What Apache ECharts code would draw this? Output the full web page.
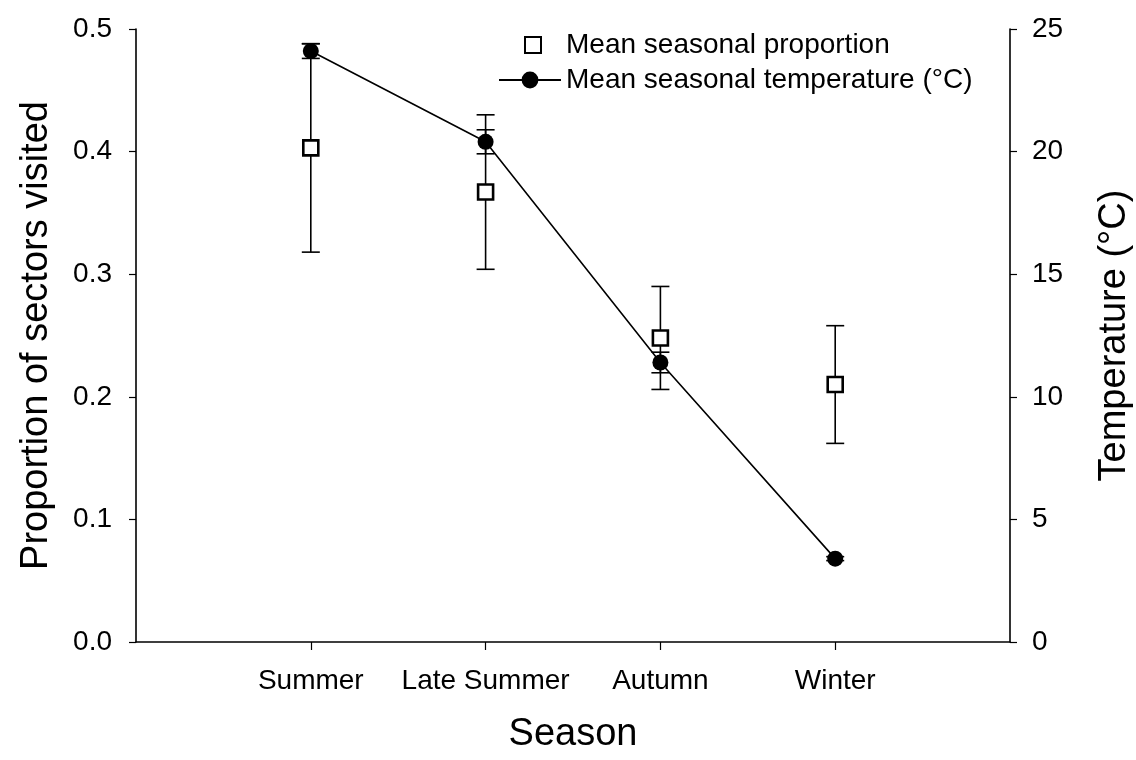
<!DOCTYPE html>
<html>
<head>
<meta charset="utf-8">
<script src="https://cdn.jsdelivr.net/npm/echarts@6/dist/echarts.min.js"></script>
<style>
html,body{margin:0;padding:0;background:#fff;}
#chart{width:1136px;height:760px;}
</style>
</head>
<body>
<div id="chart"></div>
<script>
// ---- data ----
var categories = ['Summer', 'Late Summer', 'Autumn', 'Winter'];
var categoryPos = [1, 2, 3, 4];
var propMean = [0.403, 0.367, 0.248, 0.210];
var propSE = [0.085, 0.063, 0.042, 0.048];
var tempMean = [24.1, 20.4, 11.4, 3.4];
var tempSE = [0.30, 0.49, 0.42, 0.08];
var propTicks = [0, 0.1, 0.2, 0.3, 0.4, 0.5];
var tempTicks = [0, 5, 10, 15, 20, 25];

var FONT = '"Liberation Sans", Arial, sans-serif';

var propPts = categoryPos.map(function (x, i) { return [x, propMean[i]]; });
var tempPts = categoryPos.map(function (x, i) { return [x, tempMean[i]]; });
var propErr = categoryPos.map(function (x, i) { return [x, propMean[i] - propSE[i], propMean[i] + propSE[i]]; });
var tempErr = categoryPos.map(function (x, i) { return [x, tempMean[i] - tempSE[i], tempMean[i] + tempSE[i]]; });

function errRender(params, api) {
  var x = api.value(0);
  var lo = api.coord([x, api.value(1)]);
  var hi = api.coord([x, api.value(2)]);
  var hw = 9;
  var st = { stroke: '#000', lineWidth: 1.6 };
  return {
    type: 'group',
    children: [
      { type: 'line', shape: { x1: lo[0], y1: lo[1], x2: hi[0], y2: hi[1] }, style: st },
      { type: 'line', shape: { x1: lo[0] - hw, y1: lo[1], x2: lo[0] + hw, y2: lo[1] }, style: st },
      { type: 'line', shape: { x1: hi[0] - hw, y1: hi[1], x2: hi[0] + hw, y2: hi[1] }, style: st }
    ]
  };
}

var legendText = { fontFamily: FONT, fontSize: 28, color: '#000' };

var chart = echarts.init(document.getElementById('chart'), null, { renderer: 'canvas' });
chart.setOption({
  animation: false,
  backgroundColor: '#fff',
  textStyle: { fontFamily: FONT, color: '#000' },
  grid: { left: 136, right: 126, top: 29, bottom: 118, containLabel: false, outerBoundsMode: 'none' },
  legend: [
    {
      orient: 'horizontal',
      left: 524,
      top: 31,
      itemWidth: 16,
      itemHeight: 16,
      padding: 0,
      textStyle: Object.assign({ padding: [0, 0, 0, 20] }, legendText),
      data: ['Mean seasonal proportion']
    },
    {
      orient: 'horizontal',
      left: 498,
      top: 66,
      itemWidth: 62,
      itemHeight: 21,
      padding: 0,
      textStyle: Object.assign({ padding: [0, 0, 0, 0] }, legendText),
      data: ['Mean seasonal temperature (°C)']
    }
  ],
  xAxis: {
    type: 'value',
    min: 0,
    max: 5,
    interval: 1,
    name: 'Season',
    nameLocation: 'middle',
    nameGap: 74,
    nameTextStyle: { fontFamily: FONT, fontSize: 38, color: '#000' },
    axisLine: { show: true, lineStyle: { color: '#000', width: 1.6 } },
    axisTick: { show: true, inside: false, length: 8, customValues: categoryPos, lineStyle: { color: '#000', width: 1.2 } },
    axisLabel: {
      show: true, margin: 25, fontSize: 28, fontFamily: FONT, color: '#000',
      customValues: categoryPos,
      formatter: function (v) { return categories[Math.round(v) - 1] || ''; }
    },
    splitLine: { show: false }
  },
  yAxis: [
    {
      type: 'value',
      min: 0, max: 0.5, interval: 0.1,
      position: 'left',
      name: 'Proportion of sectors visited',
      nameLocation: 'middle',
      nameRotate: 90,
      nameGap: 80,
      nameTextStyle: { fontFamily: FONT, fontSize: 38, color: '#000' },
      axisLine: { show: true, lineStyle: { color: '#000', width: 1.6 } },
      axisTick: { show: true, inside: false, length: 7, lineStyle: { color: '#000', width: 1.2 } },
      axisLabel: { margin: 24, fontSize: 28, fontFamily: FONT, color: '#000', formatter: function (v) { return v.toFixed(1); } },
      splitLine: { show: false }
    },
    {
      type: 'value',
      min: 0, max: 25, interval: 5,
      position: 'right',
      name: 'Temperature (°C)',
      nameLocation: 'middle',
      nameRotate: 90,
      nameGap: 86,
      nameTextStyle: { fontFamily: FONT, fontSize: 38, color: '#000' },
      axisLine: { show: true, lineStyle: { color: '#000', width: 1.6 } },
      axisTick: { show: true, inside: false, length: 7, lineStyle: { color: '#000', width: 1.2 } },
      axisLabel: { margin: 22, fontSize: 28, fontFamily: FONT, color: '#000' },
      splitLine: { show: false }
    }
  ],
  series: [
    {
      name: 'propErr', type: 'custom', xAxisIndex: 0, yAxisIndex: 0,
      renderItem: errRender, data: propErr, z: 1, silent: true
    },
    {
      name: 'tempErr', type: 'custom', xAxisIndex: 0, yAxisIndex: 1,
      renderItem: errRender, data: tempErr, z: 1, silent: true
    },
    {
      name: 'Mean seasonal proportion', type: 'scatter', xAxisIndex: 0, yAxisIndex: 0,
      data: propPts, symbol: 'rect', symbolSize: 15, symbolKeepAspect: true,
      itemStyle: { color: '#fff', borderColor: '#000', borderWidth: 2.6, opacity: 1 },
      z: 3
    },
    {
      name: 'Mean seasonal temperature (°C)', type: 'line', xAxisIndex: 0, yAxisIndex: 1,
      data: tempPts, symbol: 'circle', symbolSize: 16, showSymbol: true,
      lineStyle: { color: '#000', width: 1.6 },
      itemStyle: { color: '#000', borderColor: '#000', borderWidth: 0 },
      z: 4
    }
  ]
});
</script>
</body>
</html>
